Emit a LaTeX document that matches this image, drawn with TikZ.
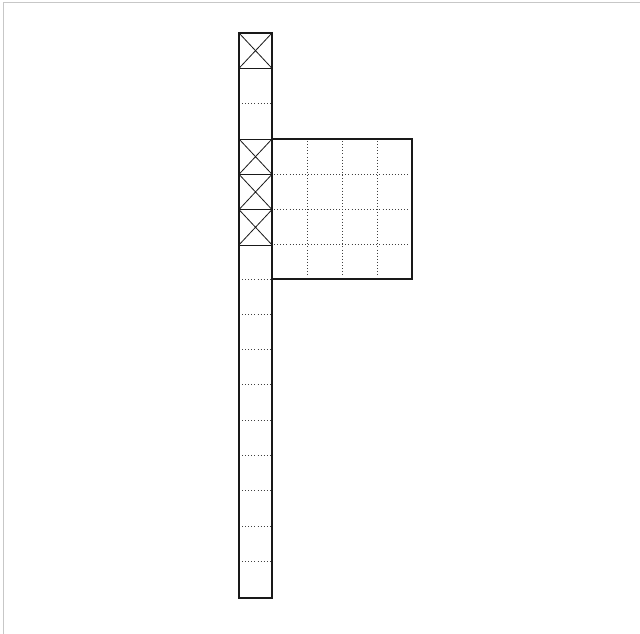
\documentclass[tikz,border=0pt]{standalone}
\begin{document}
\begin{tikzpicture}[x=1pt,y=-1pt,
  bold/.style={line width=2pt,black!90},
  thin/.style={line width=0.8pt,black!90},
  dot/.style={line width=0.9pt,black!75,dash pattern=on 0.9pt off 2.2pt},
  frame/.style={line width=1.2pt,black!22}]
\useasboundingbox (0,0) rectangle (640,634);
\draw[frame] (3.5,634) -- (3.5,2.5) -- (640,2.5);
% dotted separators in column
\foreach \y in {103,279,314.3,349.6,384.9,420.2,455.5,490.8,526.1,561.4}
  \draw[dot] (242,\y) -- (270,\y);
% grid inside square
\foreach \v in {307,342,377}{
  \draw[dot] (\v,141) -- (\v,277);
  \draw[dot] (274,\v-133) -- (410,\v-133);
}
% crossed cells
\foreach \t in {33,139,174.3,209.6}{
  \draw[thin] (239,\t) rectangle (272,\t+35.3);
  \draw[thin] (239,\t) -- (272,\t+35.3) (272,\t) -- (239,\t+35.3);
}
\draw[bold] (239,33) rectangle (272,598);
\draw[bold] (272,139) rectangle (412,279);
\end{tikzpicture}
\end{document}
